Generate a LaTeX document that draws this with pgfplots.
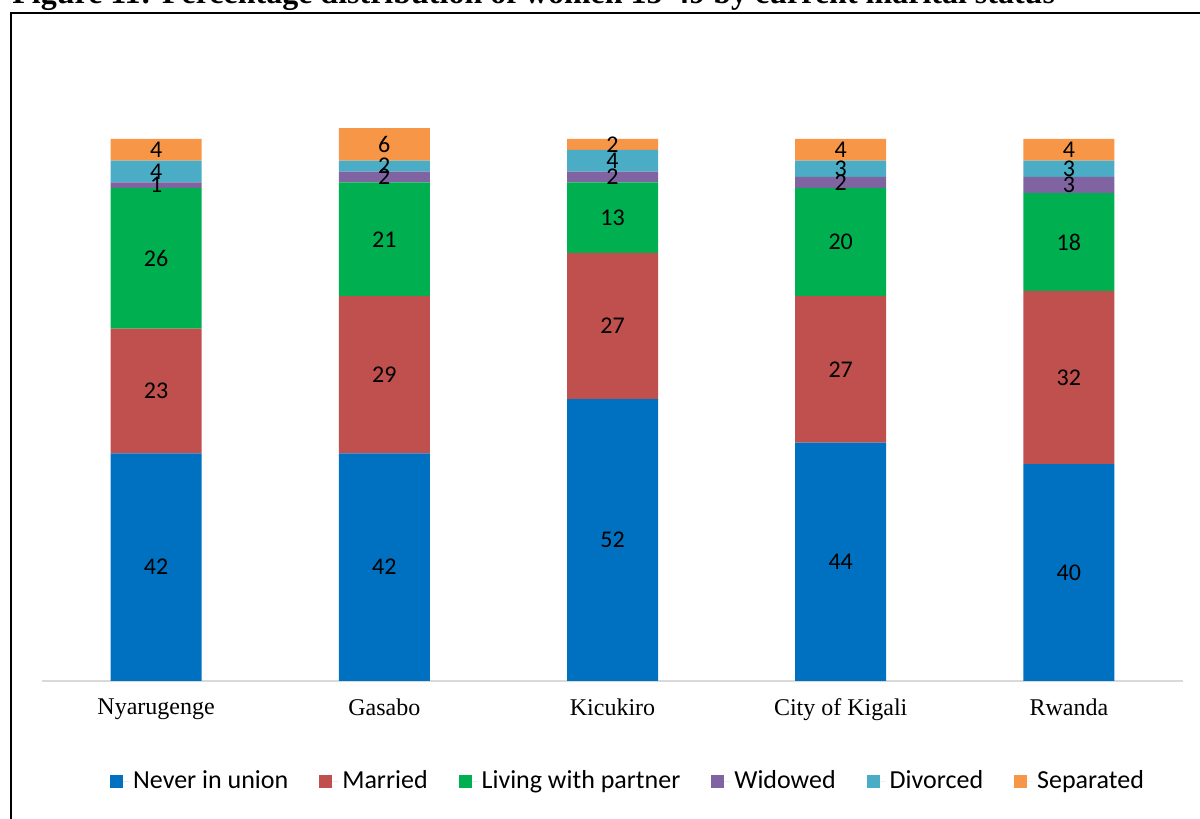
\documentclass[border=0pt]{standalone}
\usepackage{fontspec}
\setmainfont{Liberation Serif}
\newfontfamily\calibri{Carlito}
\usepackage{pgfplots}
\usepackage{pgfplotstable}
\pgfplotsset{compat=1.18}

\definecolor{cNever}{HTML}{0070C0}
\definecolor{cMarried}{HTML}{C0504D}
\definecolor{cLiving}{HTML}{00B050}
\definecolor{cWidowed}{HTML}{8064A2}
\definecolor{cDivorced}{HTML}{4BACC6}
\definecolor{cSeparated}{HTML}{F79646}

% percentages per area
\pgfplotstableread{
x never married living widowed divorced separated
0 42 23 26 1 4 4
1 42 29 21 2 2 6
2 52 27 13 2 4 2
3 44 27 20 2 3 4
4 40 32 18 3 3 4
}\marital

\begin{document}
\begin{tikzpicture}
\useasboundingbox (0,0) rectangle (600pt,409.5pt);
\clip (0,0) rectangle (600pt,409.5pt);
\node[anchor=base west, inner sep=0, font=\bfseries\fontsize{16}{18}\selectfont]
  at (6pt,407.5pt) {Figure 11: Percentage distribution of women 15-49 by current marital status};
\draw[line width=1pt] (5.5pt,-10pt) -- (5.5pt,403pt) -- (620pt,403pt);
\begin{axis}[
    at={(21pt,69pt)}, anchor=south west,
    scale only axis,
    width=570.5pt, height=298.1pt,
    xmin=-0.5, xmax=4.5, ymin=0, ymax=110,
    clip=false,
    axis line style={draw=none},
    major tick length=0pt,
    ytick=\empty,
    xtick={0,1,2,3,4},
    xticklabels={Nyarugenge,Gasabo,Kicukiro,City of Kigali,Rwanda},
    xticklabel style={font=\fontsize{12}{14}\selectfont, yshift=-5.5pt},
    ybar stacked,
    bar width=45.5pt,
    visualization depends on=rawy \as \rawy,
    nodes near coords={\pgfmathprintnumber[assume math mode=true]{\rawy}},
    every node near coord/.append style={anchor=center,
        font=\calibri\fontsize{12}{14}\selectfont},
    legend columns=6,
    legend style={draw=none, at={(0.5145,-0.1678)}, anchor=center,
        font=\calibri\fontsize{13}{15}\selectfont,
        /tikz/every even column/.append style={column sep=13.5pt}},
    legend image code/.code={\fill[#1] (0pt,-3.25pt) rectangle (6.5pt,3.25pt);
        \path (0pt,0pt) -- (9.5pt,0pt);},
]
\addplot[fill=cNever, draw=none] table[x=x, y=never] {\marital};
\addplot[fill=cMarried, draw=none] table[x=x, y=married] {\marital};
\addplot[fill=cLiving, draw=none] table[x=x, y=living] {\marital};
\addplot[fill=cWidowed, draw=none] table[x=x, y=widowed] {\marital};
\addplot[fill=cDivorced, draw=none] table[x=x, y=divorced] {\marital};
\addplot[fill=cSeparated, draw=none] table[x=x, y=separated] {\marital};
\legend{Never in union, Married, Living with partner, Widowed, Divorced, Separated}
\draw[color=black!15, line width=0.65pt] (axis cs:-0.5,0) -- (axis cs:4.5,0);
\end{axis}
\end{tikzpicture}
\end{document}
